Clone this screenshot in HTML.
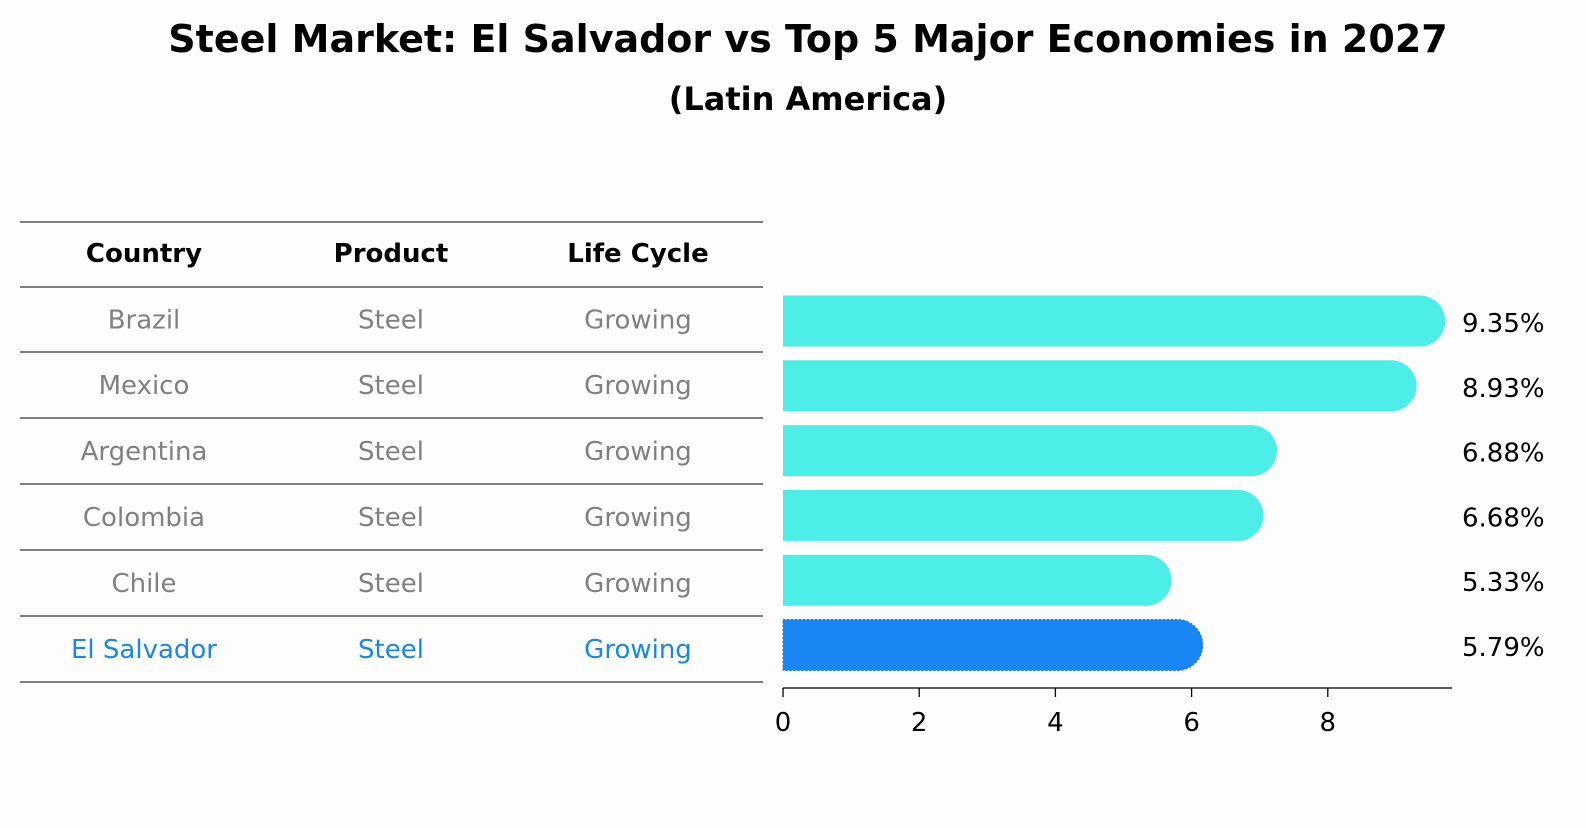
<!DOCTYPE html>
<html><head><meta charset="utf-8"><style>
body{margin:0;background:#fdfdfd;width:1586px;height:823px;overflow:hidden;font-family:"Liberation Sans","DejaVu Sans",sans-serif}
</style></head><body>
<svg width="1586" height="823" xmlns="http://www.w3.org/2000/svg" font-family="DejaVu Sans, Liberation Sans, sans-serif">
<text x="808" y="52" text-anchor="middle" font-size="38" font-weight="bold">Steel Market: El Salvador vs Top 5 Major Economies in 2027</text>
<text x="808" y="110" text-anchor="middle" font-size="32" font-weight="bold">(Latin America)</text>
<g id="table"></g>
<g id="bars"></g>
</svg>
<script>
const countries=["Brazil","Mexico","Argentina","Colombia","Chile","El Salvador"];
const products=["Steel","Steel","Steel","Steel","Steel","Steel"];
const lifecycle=["Growing","Growing","Growing","Growing","Growing","Growing"];
const values=[9.35,8.93,6.88,6.68,5.33,5.79];
const tickVals=[0,2,4,6,8];
const NS="http://www.w3.org/2000/svg";
function mk(tag,attrs,parent){const e=document.createElementNS(NS,tag);for(const k in attrs)e.setAttribute(k,attrs[k]);parent.appendChild(e);return e;}
const tbl=document.getElementById('table');
const lineYs=[222,287,352,418,484,550,616,682];
const colX=[144,391,638];
lineYs.forEach((y,i)=>{const l=mk('line',{x1:20,x2:763,y1:y,y2:y,stroke:'#000','stroke-width':1.1},tbl);

});
const heads=["Country","Product","Life Cycle"];
heads.forEach((h,i)=>{const t=mk('text',{x:colX[i],y:262,'text-anchor':'middle','font-size':26,'font-weight':'bold'},tbl);t.textContent=h;

});
countries.forEach((c,r)=>{const y=(lineYs[r+1]+lineYs[r+2])/2+9;const col=r===5?'#1a86e8':'#808080';
[c,products[r],lifecycle[r]].forEach((v,i)=>{const t=mk('text',{x:colX[i],y:y,'text-anchor':'middle','font-size':26,fill:col},tbl);t.textContent=v;

});});
const g=document.getElementById('bars');
const x0=783,ux=68.1;const xs=v=>x0+v*ux;
const rowY=r=>321+r*64.8;const bh=51,rad=25.5;
values.forEach((v,r)=>{const cy=rowY(r),top=cy-bh/2,xe=xs(v);
const d=`M${x0},${top} H${xe} A${rad},${rad} 0 0 1 ${xe},${top+bh} H${x0} Z`;
const last=r===5;
const p=mk('path',{d:d,fill:last?'#1a86f4':'#4deee8'},g);
if(last){p.setAttribute('stroke','#2a6fc0');p.setAttribute('stroke-width','1');p.setAttribute('stroke-dasharray','2,2');}


const t=mk('text',{x:1462,y:cy+11,'font-size':26},g);t.textContent=v.toFixed(2)+'%';

});
const ax=mk('line',{x1:x0,x2:1452,y1:688,y2:688,stroke:'#000','stroke-width':1.3},g);


tickVals.forEach(v=>{const tk=mk('line',{x1:xs(v),x2:xs(v),y1:688,y2:697,stroke:'#000','stroke-width':1.3},g);


const t=mk('text',{x:xs(v),y:731,'text-anchor':'middle','font-size':26},g);t.textContent=v;

});
</script>
</body></html>
